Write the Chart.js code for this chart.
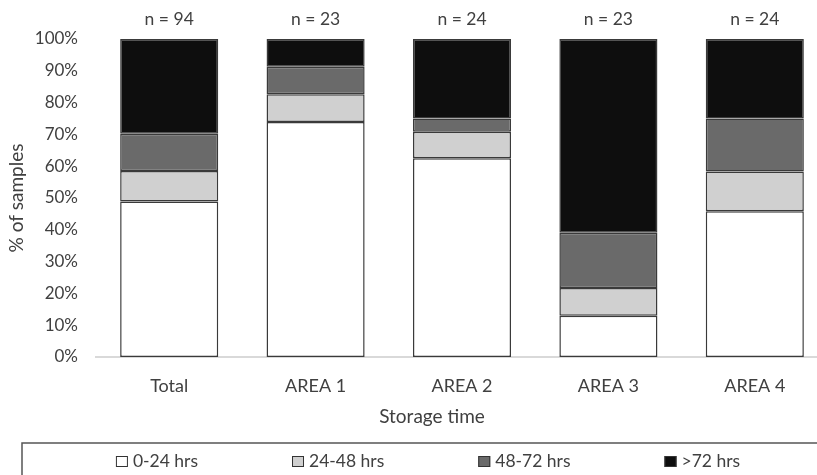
<!DOCTYPE html>
<html>
<head>
<meta charset="utf-8">
<script src="https://cdn.jsdelivr.net/npm/chart.js@4"></script>
<style>
  html, body { margin: 0; padding: 0; background: #fff; overflow: hidden; }
  #wrap { width: 864px; height: 486px; }
</style>
</head>
<body>
<div id="wrap"><canvas id="storageChart" width="864" height="486"></canvas></div>
<script>
var categories = ['Total', 'AREA 1', 'AREA 2', 'AREA 3', 'AREA 4'];
var nLabels = ['n = 94', 'n = 23', 'n = 24', 'n = 23', 'n = 24'];
var seriesNames = ['0-24 hrs', '24-48 hrs', '48-72 hrs', '>72 hrs'];
var hrs0to24 = [48.9, 73.9, 62.5, 13.0, 45.8];
var hrs24to48 = [9.6, 8.7, 8.3, 8.7, 12.5];
var hrs48to72 = [11.7, 8.7, 4.2, 17.4, 16.7];
var hrsOver72 = [29.8, 8.7, 25.0, 60.9, 25.0];
var yTicks = [0, 10, 20, 30, 40, 50, 60, 70, 80, 90, 100];

var fillColors = ['#ffffff', '#d0d0d0', '#6a6a6a', '#0e0e0e'];
var textColor = '#404040';
var fontFamily = 'Lato, "Open Sans", sans-serif';

function $each(arr, fn) {
    for (var i = 0; i < arr.length; i++) fn(i, arr[i]);
}

// title + boxed legend drawn by hand, the chart is cropped on the right like the original
var extrasPlugin = {
    id: 'extras',
    afterDraw: function (chart) {
        var ctx = chart.ctx;
        ctx.save();
        ctx.font = '19px ' + fontFamily;
        ctx.fillStyle = textColor;
        ctx.textAlign = 'center';
        ctx.textBaseline = 'middle';
        ctx.fillText('Storage time', 432, 417);

        ctx.strokeStyle = '#555555';
        ctx.lineWidth = 1.5;
        ctx.strokeRect(22, 443, chart.width - 44, 40);

        ctx.font = '17.5px ' + fontFamily;
        var gap = 94, box = 12, textGap = 5;
        var widths = [];
        var total = 0;
        $each(chart.data.datasets, function (i, ds) {
            var w = box + textGap + ctx.measureText(ds.label).width;
            widths.push(w);
            total += w;
        });
        total += gap * (widths.length - 1);
        var x = 428 - total / 2;
        ctx.textAlign = 'left';
        $each(chart.data.datasets, function (i, ds) {
            ctx.fillStyle = ds.backgroundColor;
            ctx.fillRect(x, 456, box, 11);
            ctx.lineWidth = 1;
            ctx.strokeStyle = '#333333';
            ctx.strokeRect(x + 0.5, 456.5, box - 1, 10);
            ctx.fillStyle = textColor;
            ctx.fillText(ds.label, x + box + textGap, 461.5);
            x += widths[i] + gap;
        });
        ctx.restore();
    }
};

var seriesValues = [hrs0to24, hrs24to48, hrs48to72, hrsOver72];
var datasets = [];
$each(seriesNames, function (i, name) {
    datasets.push({
        label: name,
        data: seriesValues[i],
        backgroundColor: fillColors[i],
        borderColor: '#3a3a3a',
        borderWidth: 1.5,
        borderSkipped: false,
        barPercentage: 0.67,
        categoryPercentage: 1.0
    });
});

var chart = new Chart(document.getElementById('storageChart').getContext('2d'), {
    type: 'bar',
    data: {
        labels: categories,
        datasets: datasets
    },
    options: {
        responsive: false,
        animation: false,
        layout: { padding: { left: 0, right: 36, top: 0, bottom: 89 } },
        plugins: {
            legend: { display: false },
            tooltip: { enabled: false }
        },
        scales: {
            x: {
                stacked: true,
                grid: { display: false, drawTicks: false },
                border: { display: true, color: '#d9d9d9', width: 2 },
                ticks: { color: textColor, font: { family: fontFamily, size: 18 }, padding: 18 },
                afterFit: function (scale) { scale.height = 40; }
            },
            x2: {
                type: 'category',
                labels: nLabels,
                position: 'top',
                offset: true,
                grid: { display: false, drawTicks: false },
                border: { display: false },
                ticks: { color: textColor, font: { family: fontFamily, size: 17.5 }, padding: 9 },
                afterFit: function (scale) { scale.height = 39; }
            },
            y: {
                stacked: true,
                min: 0,
                max: 100,
                afterBuildTicks: function (scale) {
                    scale.ticks = yTicks.map(function (v) { return { value: v }; });
                },
                grid: { display: false, drawTicks: false },
                border: { display: false },
                ticks: {
                    color: textColor,
                    font: { family: fontFamily, size: 17 },
                    padding: 18,
                    callback: function (v) { return v + '%'; }
                },
                title: {
                    display: true,
                    text: '% of samples',
                    color: textColor,
                    font: { family: fontFamily, size: 19 },
                    padding: { top: 5, bottom: 0 }
                },
                afterFit: function (scale) { scale.width = 96; }
            }
        }
    },
    plugins: [extrasPlugin]
});
</script>
</body>
</html>
